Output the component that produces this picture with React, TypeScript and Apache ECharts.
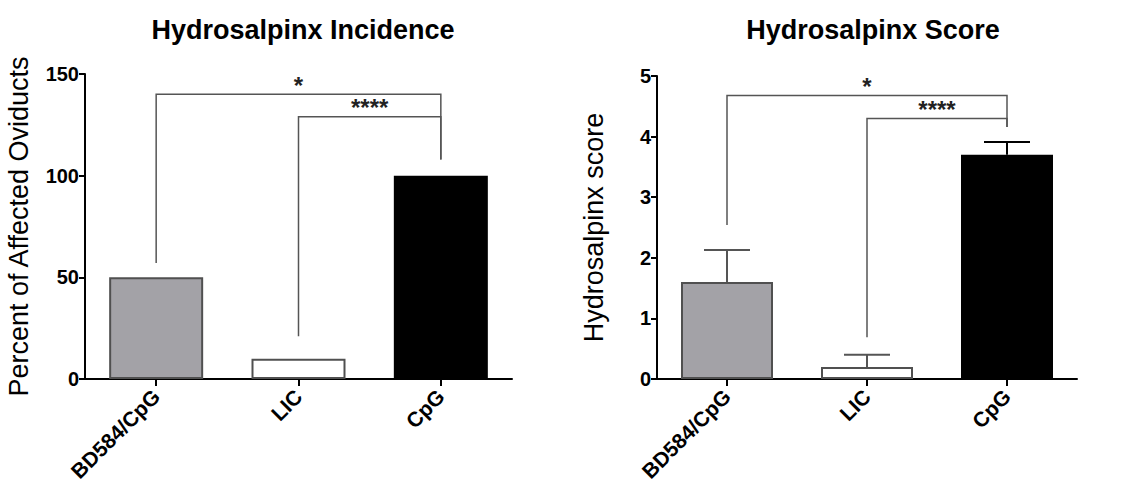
import React, { useEffect, useRef } from "react";
import * as echarts from "echarts";

const categories = ["BD584/CpG", "LIC", "CpG"];
const incidenceValues = [50, 10, 100];
const scoreMeans = [1.6, 0.2, 3.7];
const scoreUpper = [2.13, 0.4, 3.91];
const incidenceTicks = [0, 50, 100, 150];
const scoreTicks = [0, 1, 2, 3, 4, 5];
// brackets: [fromIndex, toIndex, top, leftLegEnd, rightLegEnd]
const incidenceBrackets = [
  [0, 2, 140, 57, 108],
  [1, 2, 129, 21, 108],
];
const scoreBrackets = [
  [0, 2, 4.68, 2.54, 4.16],
  [1, 2, 4.3, 0.69, 4.16],
];
const bracketLabels = ["*", "****"];

const fillColors = ["#a3a2a7", "#ffffff", "#000000"];
const borderColors = ["#505050", "#505050", "#000000"];
const errColors = ["#555555", "#555555", "#000000"];

const FONT = "'Liberation Sans', Arial, sans-serif";

function bracketRender(params: any, api: any) {
  const a = api.value(0);
  const b = api.value(1);
  const top = api.value(2);
  const l1 = api.value(3);
  const l2 = api.value(4);
  const pA = api.coord([a, top]);
  const pB = api.coord([b, top]);
  const pA2 = api.coord([a, l1]);
  const pB2 = api.coord([b, l2]);
  const label = bracketLabels[params.dataIndex];
  return {
    type: "group",
    children: [
      {
        type: "polyline",
        shape: { points: [pA2, pA, pB, pB2] },
        style: { stroke: "#555555", lineWidth: 1.5, fill: "none" },
      },
      {
        type: "text",
        x: (pA[0] + pB[0]) / 2,
        y: pA[1] + 3,
        style: {
          text: label,
          fill: "#222",
          font: `bold 24px ${FONT}`,
          align: "center",
          verticalAlign: "bottom",
        },
      },
    ],
  };
}

function errorRender(params: any, api: any) {
  const i = api.value(0);
  const m = api.value(1);
  const u = api.value(2);
  const p1 = api.coord([i, m]);
  const p2 = api.coord([i, u]);
  const half = 23;
  const c = errColors[params.dataIndex];
  return {
    type: "group",
    children: [
      {
        type: "line",
        shape: { x1: p1[0], y1: p1[1], x2: p2[0], y2: p2[1] },
        style: { stroke: c, lineWidth: 2 },
      },
      {
        type: "line",
        shape: { x1: p2[0] - half, y1: p2[1], x2: p2[0] + half, y2: p2[1] },
        style: { stroke: c, lineWidth: 2 },
      },
    ],
  };
}

export default function App() {
  const ref = useRef<HTMLDivElement>(null);
  useEffect(() => {
    if (!ref.current) return;
    const chart = echarts.init(ref.current, null, { renderer: "svg" });
    const axisCommonY = {
      type: "value" as const,
      axisLine: { show: true, lineStyle: { color: "#000", width: 2 } },
      axisTick: { show: true, length: 6, lineStyle: { color: "#000", width: 2 } },
      splitLine: { show: false },
      axisLabel: {
        color: "#000",
        fontFamily: FONT,
        fontWeight: "bold" as const,
        fontSize: 20,
        margin: 6,
      },
      nameLocation: "middle" as const,
      nameTextStyle: { color: "#000", fontFamily: FONT, fontSize: 27 },
    };
    const axisCommonX = {
      type: "category" as const,
      data: categories,
      axisLine: { show: true, lineStyle: { color: "#000", width: 2 } },
      axisTick: {
        show: true,
        alignWithLabel: true,
        length: 7,
        lineStyle: { color: "#000", width: 2 },
      },
      axisLabel: {
        color: "#000",
        fontFamily: FONT,
        fontWeight: "bold" as const,
        fontSize: 21,
        rotate: 45,
        margin: 14,
        interval: 0,
      },
    };
    chart.setOption({
      animation: false,
      title: [
        {
          text: "Hydrosalpinx Incidence",
          left: 298,
          top: 11,
          textAlign: "center",
          textStyle: { fontFamily: FONT, fontWeight: "bold", fontSize: 27, color: "#000" },
        },
        {
          text: "Hydrosalpinx Score",
          left: 868,
          top: 11,
          textAlign: "center",
          textStyle: { fontFamily: FONT, fontWeight: "bold", fontSize: 27, color: "#000" },
        },
      ],
      grid: [
        { left: 85, right: 1130 - 512, top: 74, bottom: 493 - 379 },
        { left: 657, right: 1130 - 1077, top: 76, bottom: 493 - 379 },
      ],
      xAxis: [
        { ...axisCommonX, gridIndex: 0 },
        { ...axisCommonX, gridIndex: 1 },
      ],
      yAxis: [
        {
          ...axisCommonY,
          gridIndex: 0,
          min: incidenceTicks[0],
          max: incidenceTicks[incidenceTicks.length - 1],
          interval: 50,
          name: "Percent of Affected Oviducts",
          nameGap: 53,
        },
        {
          ...axisCommonY,
          gridIndex: 1,
          min: scoreTicks[0],
          max: scoreTicks[scoreTicks.length - 1],
          interval: 1,
          name: "Hydrosalpinx score",
          nameGap: 50,
        },
      ],
      series: [
        {
          type: "bar",
          xAxisIndex: 0,
          yAxisIndex: 0,
          barWidth: 94,
          data: incidenceValues.map((v, i) => ({
            value: v,
            itemStyle: { color: fillColors[i], borderColor: borderColors[i], borderWidth: 2 },
          })),
        },
        {
          type: "bar",
          xAxisIndex: 1,
          yAxisIndex: 1,
          barWidth: 92,
          data: scoreMeans.map((v, i) => ({
            value: v,
            itemStyle: { color: fillColors[i], borderColor: borderColors[i], borderWidth: 2 },
          })),
        },
        {
          type: "custom",
          xAxisIndex: 1,
          yAxisIndex: 1,
          renderItem: errorRender,
          data: scoreMeans.map((m, i) => [i, m, scoreUpper[i]]),
          z: 3,
        },
        {
          type: "custom",
          xAxisIndex: 0,
          yAxisIndex: 0,
          renderItem: bracketRender,
          data: incidenceBrackets,
          z: 4,
        },
        {
          type: "custom",
          xAxisIndex: 1,
          yAxisIndex: 1,
          renderItem: bracketRender,
          data: scoreBrackets,
          z: 4,
        },
      ],
    });
    return () => chart.dispose();
  }, []);
  return (
    <div
      ref={ref}
      style={{ position: "fixed", left: 0, top: 0, width: 1130, height: 493, background: "#fff" }}
    />
  );
}
